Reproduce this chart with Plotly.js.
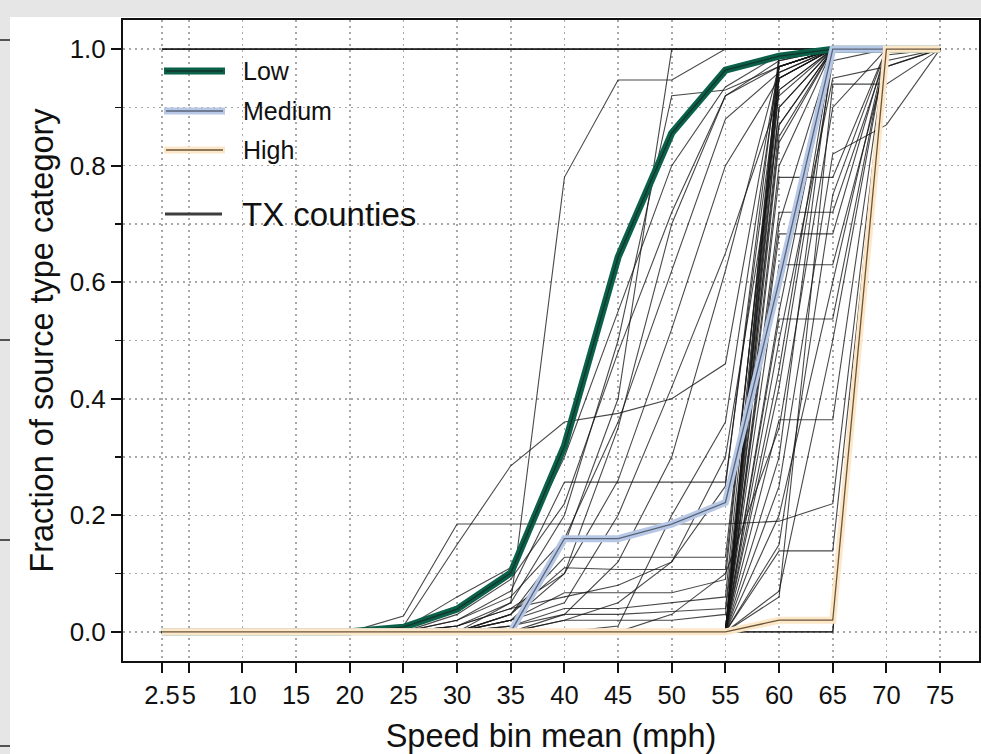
<!DOCTYPE html>
<html>
<head>
<meta charset="utf-8">
<script src="https://cdn.plot.ly/plotly-3.0.1.min.js"></script>
<style>html,body{margin:0;padding:0;background:#fff;}#chart{width:981px;height:754px;}</style>
</head>
<body>
<div id="chart"></div>
<script>
// ---- data ----
const speedBins = [2.5, 5, 10, 15, 20, 25, 30, 35, 40, 45, 50, 55, 60, 65, 70, 75];
const speedTickLabels = ["2.5", "5", "10", "15", "20", "25", "30", "35", "40", "45", "50", "55", "60", "65", "70", "75"];
const yTickVals = [0, 0.2, 0.4, 0.6, 0.8, 1.0];
const yTickLabels = ["0.0", "0.2", "0.4", "0.6", "0.8", "1.0"];

const lowFrac    = [0, 0, 0, 0, 0, 0.008, 0.039, 0.101, 0.319, 0.643, 0.856, 0.964, 0.988, 1.0, 1.0, 1.0];
const mediumFrac = [0, 0, 0, 0, 0, 0, 0, 0, 0.16, 0.16, 0.185, 0.222, 0.602, 1.0, 1.0, null];
const highFrac   = [0, 0, 0, 0, 0, 0, 0, 0, 0, 0, 0, 0, 0.02, 0.02, 1.0, 1.0];

const txCounties = [
  [1, 1, 1, 1, 1, 1, 1, 1, 1, 1, 1, 1, 1, 1, 1, 1],
  [1, 1, 1, 1, 1, 1, 1, 1, 1, 1, 1, 1, 1, 1, 1, 1],
  [1, 1, 1, 1, 1, 1, 1, 1, 1, 1, 1, 1, 1, 1, 1, 1],
  [0, 0, 0, 0, 0, 0, 0, 0, 0, 0, 0, 0, 0, 0, 1, 1],
  [0, 0, 0, 0, 0, 0, 0, 0, 0, 0, 0, 0, 0, 0, 0.97, 1],
  [0, 0, 0, 0, 0, 0.01, 0.15, 0.285, 0.36, 0.375, 0.40, 0.46, 0.97, 1, 1, 1],
  [0, 0, 0, 0, 0, 0, 0, 0.05, 0.78, 0.947, 0.947, 1, 1, 1, 1, 1],
  [0, 0, 0, 0, 0, 0, 0, 0.03, 0.15, 0.40, 1, 1, 1, 1, 1, 1],
  [0, 0, 0, 0, 0, 0.027, 0.185, 0.185, 0.185, 0.185, 0.185, 0.185, 0.19, 0.22, 1, 1],
  [0, 0, 0, 0, 0, 0, 0.02, 0.07, 0.257, 0.257, 0.257, 0.257, 0.95, 1, 1, 1],
  [0, 0, 0, 0, 0, 0, 0, 0.03, 0.128, 0.128, 0.128, 0.128, 0.93, 1, 1, 1],
  [0, 0, 0, 0, 0, 0, 0, 0.02, 0.067, 0.067, 0.067, 0.09, 0.98, 1, 1, 1],
  [0, 0, 0, 0, 0, 0.005, 0.06, 0.11, 0.30, 0.55, 0.80, 0.935, 0.99, 1, 1, 1],
  [0, 0, 0, 0, 0, 0, 0.03, 0.09, 0.22, 0.48, 0.72, 0.92, 0.97, 1, 1, 1],
  [0, 0, 0, 0, 0, 0, 0.02, 0.06, 0.16, 0.36, 0.62, 0.88, 0.96, 1, 1, 1],
  [0, 0, 0, 0, 0, 0, 0.01, 0.04, 0.10, 0.26, 0.52, 0.80, 0.95, 1, 1, 1],
  [0, 0, 0, 0, 0, 0, 0, 0.02, 0.05, 0.20, 0.42, 0.65, 0.92, 1, 1, 1],
  [0, 0, 0, 0, 0, 0, 0, 0.03, 0.11, 0.107, 0.107, 0.107, 0.96, 1, 1, 1],
  [0, 0, 0, 0, 0, 0, 0.01, 0.04, 0.06, 0.08, 0.12, 0.30, 0.87, 1, 1, 1],
  [0, 0, 0, 0, 0, 0, 0, 0, 0.03, 0.03, 0.035, 0.04, 0.90, 1, 1, 1],
  [0, 0, 0, 0, 0, 0, 0, 0, 0, 0, 0, 0, 0.99, 1, 1, 1],
  [0, 0, 0, 0, 0, 0, 0, 0, 0, 0, 0, 0, 0.97, 1, 1, 1],
  [0, 0, 0, 0, 0, 0, 0, 0, 0, 0, 0, 0, 0.95, 1, 1, 1],
  [0, 0, 0, 0, 0, 0, 0, 0, 0, 0, 0, 0, 0.93, 1, 1, 1],
  [0, 0, 0, 0, 0, 0, 0, 0, 0, 0, 0, 0, 0.90, 1, 1, 1],
  [0, 0, 0, 0, 0, 0, 0, 0, 0, 0, 0, 0, 0.87, 1, 1, 1],
  [0, 0, 0, 0, 0, 0, 0, 0, 0, 0, 0, 0, 0.84, 1, 1, 1],
  [0, 0, 0, 0, 0, 0, 0, 0, 0, 0, 0, 0, 0.80, 1, 1, 1],
  [0, 0, 0, 0, 0, 0, 0, 0, 0, 0, 0, 0, 0.70, 1, 1, 1],
  [0, 0, 0, 0, 0, 0, 0, 0, 0, 0, 0, 0, 0.55, 1, 1, 1],
  [0, 0, 0, 0, 0, 0, 0, 0, 0, 0, 0, 0, 0.45, 1, 1, 1],
  [0, 0, 0, 0, 0, 0, 0, 0, 0, 0, 0, 0, 0.30, 1, 1, 1],
  [0, 0, 0, 0, 0, 0, 0, 0, 0, 0, 0, 0, 0.78, 0.78, 1, 1],
  [0, 0, 0, 0, 0, 0, 0, 0, 0, 0, 0, 0, 0.72, 0.72, 0.99, 1],
  [0, 0, 0, 0, 0, 0, 0, 0, 0, 0, 0, 0, 0.683, 0.683, 1, 1],
  [0, 0, 0, 0, 0, 0, 0, 0, 0, 0, 0, 0, 0.63, 0.63, 0.98, 1],
  [0, 0, 0, 0, 0, 0, 0, 0, 0, 0, 0, 0, 0.537, 0.537, 1, 1],
  [0, 0, 0, 0, 0, 0, 0, 0, 0, 0, 0, 0, 0.364, 0.364, 1, 1],
  [0, 0, 0, 0, 0, 0, 0, 0, 0, 0, 0, 0, 0.139, 0.139, 1, 1],
  [0, 0, 0, 0, 0, 0, 0, 0, 0, 0, 0, 0, 0.06, 0.94, 0.94, 1],
  [0, 0, 0, 0, 0, 0, 0, 0, 0, 0, 0, 0, 0.25, 0.82, 0.87, 1],
  [0, 0, 0, 0, 0, 0, 0, 0, 0, 0, 0, 0, 0.50, 0.95, 0.97, 1],
  [0, 0, 0, 0, 0, 0, 0, 0, 0, 0, 0, 0, 0.42, 0.98, 1, 1],
  [0, 0, 0, 0, 0, 0, 0, 0, 0, 0, 0, 0, 0.20, 0.60, 1, 1],
  [0, 0, 0, 0, 0, 0, 0, 0, 0, 0, 0.03, 0.10, 0.35, 0.90, 1, 1],
  [0, 0, 0, 0, 0, 0, 0, 0, 0, 0.01, 0.20, 0.36, 0.97, 1, 1, 1],
  [0, 0, 0, 0, 0, 0, 0, 0.01, 0.03, 0.12, 0.30, 0.62, 0.97, 1, 1, 1],
  [0, 0, 0, 0, 0, 0, 0, 0, 0.02, 0.05, 0.12, 0.25, 0.99, 1, 1, 1],
  [0, 0, 0, 0, 0, 0, 0, 0, 0, 0, 0, 0, 0.07, 0.50, 1, 1],
  [0, 0, 0, 0, 0, 0, 0, 0, 0, 0, 0, 0, 0.15, 0.75, 1, 1],
  [0, 0, 0, 0, 0, 0, 0, 0.01, 0.04, 0.04, 0.05, 0.06, 0.95, 1, 1, 1],
  [0, 0, 0, 0, 0, 0, 0, 0, 0.02, 0.02, 0.02, 0.03, 0.85, 1, 1, 1],
  [0, 0, 0, 0, 0, 0, 0.01, 0.05, 0.20, 0.50, 0.92, 0.93, 0.97, 1, 1, 1],
  [0, 0, 0, 0, 0, 0, 0, 0.02, 0.10, 0.35, 0.70, 0.92, 0.98, 1, 1, 1]
];

const categoryNames = ["Low", "Medium", "High"];
const countyLabel = "TX counties";

// ---- styles ----
const FONT = "Liberation Sans, Arial, Helvetica, sans-serif";
const catStyles = [
  {fill: "#0b6049", core: "#12352b"},
  {fill: "#b7c7e6", core: "#5a6478"},
  {fill: "#fde7c9", core: "#6a5538"}
];
const countyColor = "rgba(20,20,20,0.78)";

const traces = [];
txCounties.forEach((vals, i) => {
  traces.push({
    x: speedBins, y: vals, type: "scatter", mode: "lines",
    name: countyLabel, showlegend: false, hoverinfo: "skip",
    line: {color: countyColor, width: 1.1}
  });
});
[lowFrac, mediumFrac, highFrac].forEach((vals, i) => {
  traces.push({
    x: speedBins, y: vals, type: "scatter", mode: "lines",
    name: categoryNames[i], showlegend: false,
    line: {color: catStyles[i].fill, width: 7}
  });
  traces.push({
    x: speedBins, y: vals, type: "scatter", mode: "lines",
    name: categoryNames[i], showlegend: false, hoverinfo: "skip",
    line: {color: catStyles[i].core, width: 1.3}
  });
});

// pixel -> paper helpers (plot area: x 123..979, y 20..661)
const PL = 123, PR = 979, PT = 20, PB = 661;
const px = p => (p - PL) / (PR - PL);
const py = p => (PB - p) / (PB - PT);

const shapes = [];
const annotations = [];
// window-like background strips of the screenshot
shapes.push({type: "rect", xref: "paper", yref: "paper", x0: px(0), x1: px(981), y0: py(17), y1: py(0),
  fillcolor: "#e6e6e6", line: {width: 0}, layer: "below"});
shapes.push({type: "rect", xref: "paper", yref: "paper", x0: px(0), x1: px(10), y0: py(754), y1: py(17),
  fillcolor: "#e6e6e6", line: {width: 0}, layer: "below"});
[40, 340, 540, 746].forEach(yy => {
  shapes.push({type: "line", xref: "paper", yref: "paper", x0: px(0), x1: px(10), y0: py(yy), y1: py(yy),
    line: {color: "#222", width: 1.5}});
});

// legend (drawn manually to mimic the outlined line samples)
const legRows = [71, 111, 150];
categoryNames.forEach((nm, i) => {
  shapes.push({type: "line", xref: "paper", yref: "paper", x0: px(164), x1: px(225), y0: py(legRows[i]), y1: py(legRows[i]),
    line: {color: catStyles[i].fill, width: 7}});
  shapes.push({type: "line", xref: "paper", yref: "paper", x0: px(166), x1: px(223), y0: py(legRows[i]), y1: py(legRows[i]),
    line: {color: catStyles[i].core, width: 1.3}});
  annotations.push({xref: "paper", yref: "paper", x: px(241), y: py(legRows[i]), xanchor: "left", yanchor: "middle",
    text: nm, showarrow: false, font: {family: FONT, size: 25, color: "#111"}});
});
shapes.push({type: "line", xref: "paper", yref: "paper", x0: px(165), x1: px(222), y0: py(214), y1: py(214),
  line: {color: "#3c3c3c", width: 3}});
annotations.push({xref: "paper", yref: "paper", x: px(240), y: py(214), xanchor: "left", yanchor: "middle",
  text: countyLabel, showarrow: false, font: {family: FONT, size: 33, color: "#111"}});

const GRID_DASH = "2px,4px";
const gridStyle = {gridcolor: "#a8a8a8", gridwidth: 1.6, griddash: GRID_DASH};

const layout = {
  width: 981, height: 754,
  margin: {l: PL, r: 981 - PR, t: PT, b: 754 - PB},
  paper_bgcolor: "#ffffff", plot_bgcolor: "#ffffff",
  font: {family: FONT, color: "#111"},
  showlegend: false,
  xaxis: Object.assign({
    range: [-1.125, 78.625], tickmode: "array", tickvals: speedBins, ticktext: speedTickLabels,
    ticks: "outside", ticklen: 10, tickwidth: 2, tickcolor: "#111",
    showline: true, linecolor: "#111", linewidth: 2, mirror: true,
    showgrid: true, zeroline: false,
    tickfont: {family: FONT, size: 25.5, color: "#111"},
    title: {text: "Speed bin mean (mph)", font: {family: FONT, size: 32.5, color: "#111"}, standoff: 17}
  }, gridStyle),
  yaxis: Object.assign({
    range: [-0.05, 1.05], tickmode: "array", tickvals: yTickVals, ticktext: yTickLabels,
    ticks: "outside", ticklen: 10, tickwidth: 2, tickcolor: "#111",
    showline: true, linecolor: "#111", linewidth: 2, mirror: true,
    showgrid: true, zeroline: false,
    minor: {dtick: 0.1, tick0: 0, ticks: "outside", ticklen: 6, tickwidth: 1.5, tickcolor: "#111",
            showgrid: true, gridcolor: "#a8a8a8", gridwidth: 1.6, griddash: GRID_DASH},
    tickfont: {family: FONT, size: 26, color: "#111"},
    title: {text: "Fraction of source type category", font: {family: FONT, size: 32.5, color: "#111"}, standoff: 6}
  }, gridStyle),
  shapes: shapes,
  annotations: annotations
};

Plotly.newPlot("chart", traces, layout, {displayModeBar: false, staticPlot: true});
</script>
</body>
</html>
